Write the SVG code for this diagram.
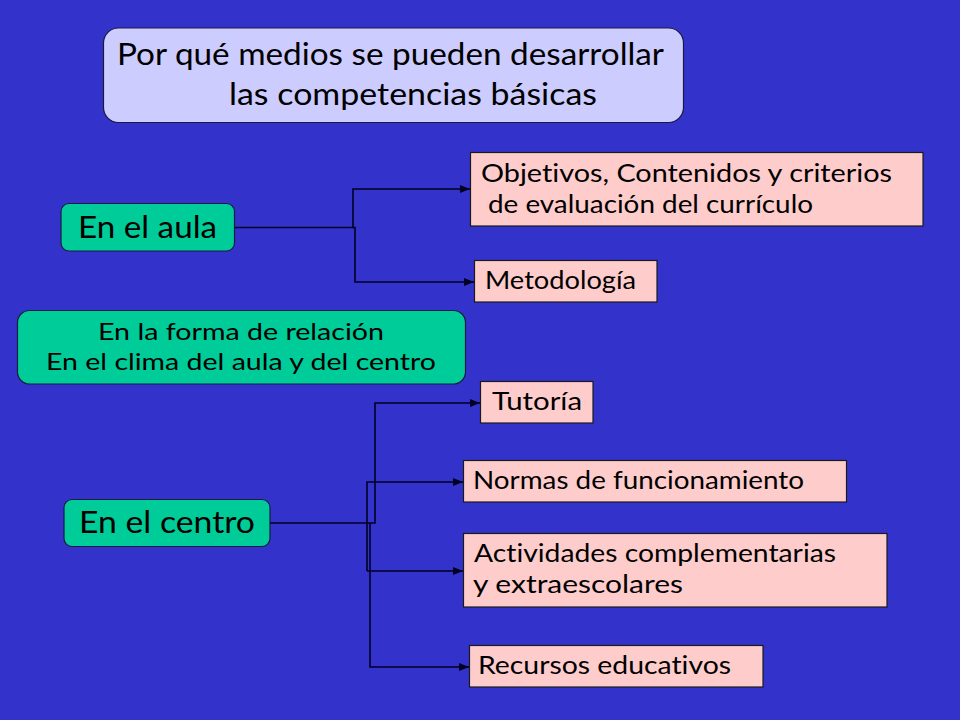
<svg xmlns="http://www.w3.org/2000/svg" width="960" height="720" viewBox="0 0 960 720">
<defs>
<marker id="arr" markerUnits="userSpaceOnUse" markerWidth="10" markerHeight="8" refX="10" refY="4" orient="auto">
<path d="M0,0 L10,4 L0,8 Z" fill="#000022"/>
</marker>
<style>
.t{font-family:"Lato","DejaVu Sans",sans-serif;fill:#000;font-variant-ligatures:none;}
.teal{fill:#00cc99;stroke:#1a1a40;stroke-width:1.2;}
.pink{fill:#ffcccc;stroke:#1a1a1a;stroke-width:1.2;}
.c{fill:none;stroke:#000022;stroke-width:1.6;}
</style>
</defs>
<rect x="0" y="0" width="960" height="720" fill="#3333cc"/>
<g id="title">
<rect x="103.5" y="28" width="580" height="94.5" rx="15" fill="#ccccff" stroke="#1a1a40" stroke-width="1.2"/>
<text class="t" x="117" y="65" font-size="30" textLength="547" lengthAdjust="spacingAndGlyphs">Por qué medios se pueden desarrollar</text>
<text class="t" x="229" y="105" font-size="30" textLength="368" lengthAdjust="spacingAndGlyphs">las competencias básicas</text>
</g>
<g id="aula">
<rect class="teal" x="61" y="203.5" width="173.5" height="47.5" rx="8"/>
<text class="t" x="78" y="238" font-size="30" textLength="139" lengthAdjust="spacingAndGlyphs">En el aula</text>
</g>
<g id="objetivos">
<rect class="pink" x="470.5" y="152.5" width="452.5" height="73.5"/>
<text class="t" x="481" y="182" font-size="25" textLength="411" lengthAdjust="spacingAndGlyphs">Objetivos, Contenidos y criterios</text>
<text class="t" x="488" y="213" font-size="25" textLength="325" lengthAdjust="spacingAndGlyphs">de evaluación del currículo</text>
</g>
<g id="metodologia">
<rect class="pink" x="474.5" y="260.5" width="182.5" height="41.5"/>
<text class="t" x="485" y="289" font-size="25" textLength="151" lengthAdjust="spacingAndGlyphs">Metodología</text>
</g>
<g id="relacion">
<rect class="teal" x="17.5" y="310.5" width="448" height="73.5" rx="12"/>
<text class="t" x="98" y="340" font-size="24" textLength="286" lengthAdjust="spacingAndGlyphs">En la forma de relación</text>
<text class="t" x="46" y="370" font-size="24" textLength="390" lengthAdjust="spacingAndGlyphs">En el clima del aula y del centro</text>
</g>
<g id="centro">
<rect class="teal" x="64" y="499.5" width="206" height="47" rx="8"/>
<text class="t" x="79" y="533" font-size="30" textLength="176" lengthAdjust="spacingAndGlyphs">En el centro</text>
</g>
<g id="tutoria">
<rect class="pink" x="480.5" y="381.5" width="112.5" height="41.5"/>
<text class="t" x="492" y="410" font-size="25" textLength="90" lengthAdjust="spacingAndGlyphs">Tutoría</text>
</g>
<g id="normas">
<rect class="pink" x="463.5" y="460.5" width="383" height="41.5"/>
<text class="t" x="473" y="489" font-size="25" textLength="331" lengthAdjust="spacingAndGlyphs">Normas de funcionamiento</text>
</g>
<g id="actividades">
<rect class="pink" x="463.5" y="533.5" width="423.5" height="73.5"/>
<text class="t" x="474" y="562" font-size="25" textLength="362" lengthAdjust="spacingAndGlyphs">Actividades complementarias</text>
<text class="t" x="473" y="593" font-size="25" textLength="210" lengthAdjust="spacingAndGlyphs">y extraescolares</text>
</g>
<g id="recursos">
<rect class="pink" x="469.5" y="645.5" width="293.5" height="41.5"/>
<text class="t" x="478" y="674" font-size="25" textLength="253" lengthAdjust="spacingAndGlyphs">Recursos educativos</text>
</g>
<g id="connectors">
<path class="c" d="M235,227.5 H353 V189 H470" marker-end="url(#arr)"/>
<path class="c" d="M353,227.5 H355 V282 H474" marker-end="url(#arr)"/>
<path class="c" d="M270,523 H375 V403 H480" marker-end="url(#arr)"/>
<path class="c" d="M367,571 V482 H463" marker-end="url(#arr)"/>
<path class="c" d="M367,571 H463" marker-end="url(#arr)"/>
<path class="c" d="M370,523 V667 H469" marker-end="url(#arr)"/>
</g>
</svg>
